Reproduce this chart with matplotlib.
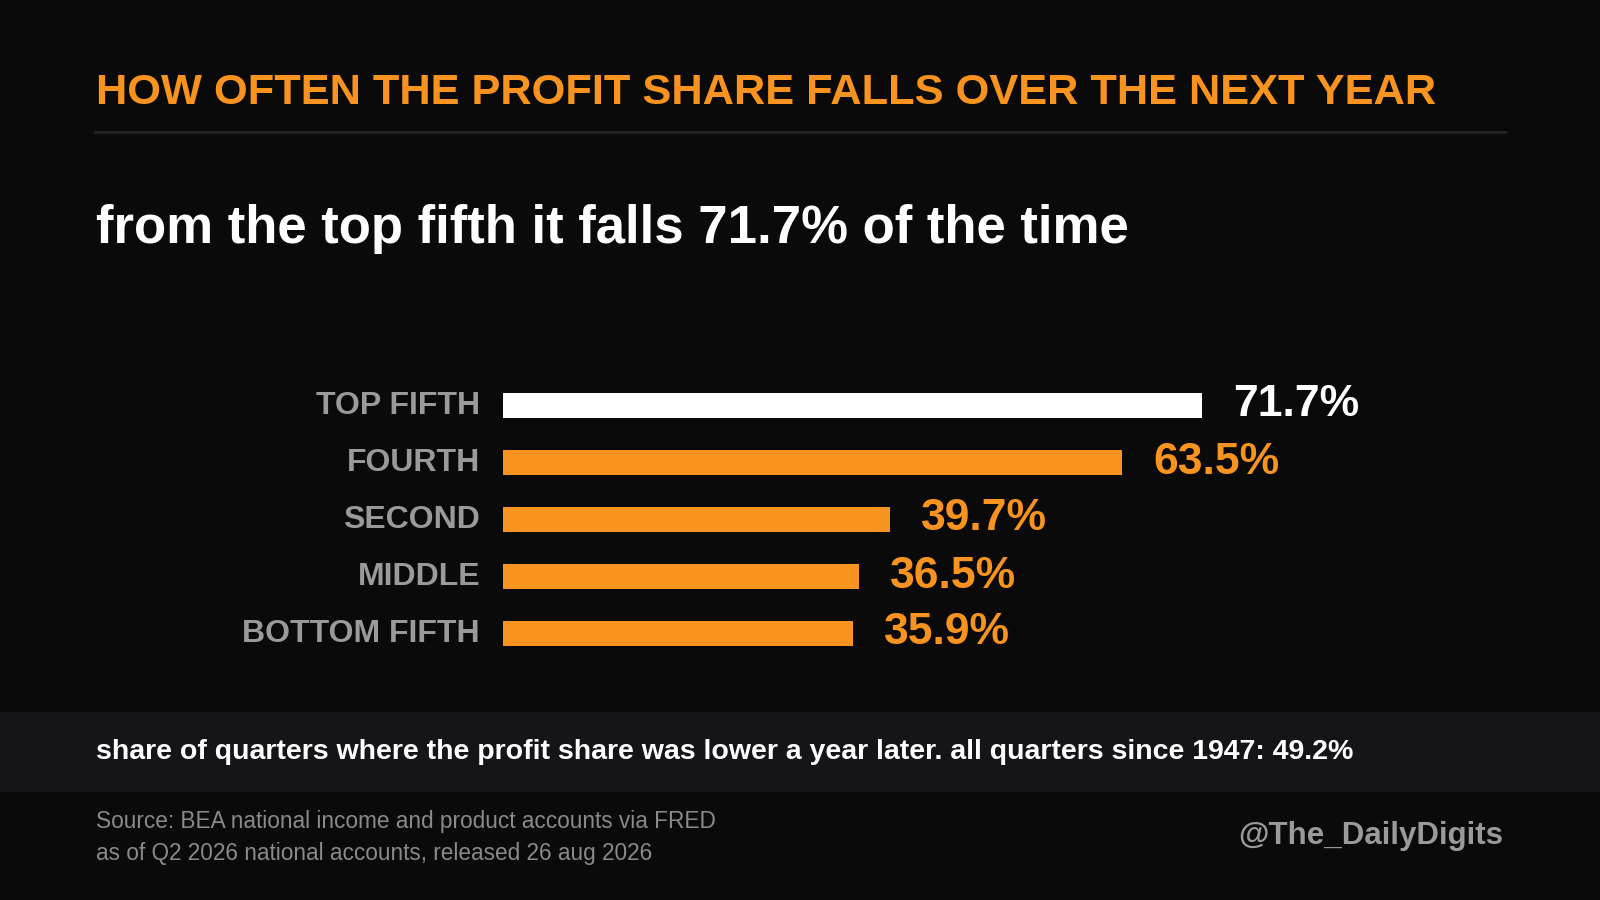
import matplotlib.pyplot as plt
from matplotlib.patches import Rectangle
from matplotlib.lines import Line2D

plt.rcParams['font.family'] = ['Liberation Sans', 'DejaVu Sans']

# data
categories = ['TOP FIFTH', 'FOURTH', 'SECOND', 'MIDDLE', 'BOTTOM FIFTH']
values = [71.7, 63.5, 39.7, 36.5, 35.9]
value_labels = ['71.7%', '63.5%', '39.7%', '36.5%', '35.9%']

title = 'HOW OFTEN THE PROFIT SHARE FALLS OVER THE NEXT YEAR'
subtitle = 'from the top fifth it falls 71.7% of the time'
note = 'share of quarters where the profit share was lower a year later. all quarters since 1947: 49.2%'
source1 = 'Source: BEA national income and product accounts via FRED'
source2 = 'as of Q2 2026 national accounts, released 26 aug 2026'
handle = '@The_DailyDigits'

BG = '#0a0a0a'
ORANGE = '#f7931e'
GRAY = '#9a9a9a'
W, H = 1600, 900

fig = plt.figure(figsize=(16, 9), dpi=100, facecolor=BG)

def fx(x):
    return x / W

def fy(y):
    return 1 - y / H

# header
fig.text(fx(96), fy(104.5), title, color=ORANGE, fontsize=31.2, fontweight='bold', va='baseline')
fig.add_artist(Line2D([fx(95), fx(1505)], [fy(131.5), fy(131.5)], transform=fig.transFigure,
                      color='#222226', lw=2.2))
fig.text(fx(96), fy(243), subtitle, color='white', fontsize=38, fontweight='bold', va='baseline')

# bars
px_per_unit = 9.75
ax_left, ax_top, row = 503, 377, 57
ax = fig.add_axes([fx(ax_left), fy(ax_top + row * len(values)), 100 * px_per_unit / W, row * len(values) / H])
ax.set_facecolor(BG)
ypos = list(range(len(values)))
colors = ['white'] + [ORANGE] * (len(values) - 1)
ax.barh(ypos, values, height=0.45, color=colors)
ax.set_xlim(0, 100)
ax.set_ylim(len(values) - 0.5, -0.5)
ax.axis('off')

for i, (v, lab, cat) in enumerate(zip(values, value_labels, categories)):
    ax.annotate(lab, (v, i), xytext=(31, -11), textcoords='offset pixels',
                color=colors[i], fontsize=32, fontweight='bold', va='baseline', ha='left')
    ax.annotate(cat, (0, i), xytext=(-23, -8.5), textcoords='offset pixels',
                color=GRAY, fontsize=23, fontweight='bold', va='baseline', ha='right')

# note band
fig.add_artist(Rectangle((0, fy(792)), 1, (792 - 712) / H, transform=fig.transFigure,
                         facecolor='#141419', edgecolor='none'))
fig.text(fx(96), fy(759), note, color='white', fontsize=20.5, fontweight='bold', va='baseline')

# footer
fig.text(fx(96), fy(828), source1, color='#8a8a8a', fontsize=16.25, va='baseline')
fig.text(fx(96), fy(860), source2, color='#8a8a8a', fontsize=16.25, va='baseline')
fig.text(fx(1503), fy(844), handle, color=GRAY, fontsize=22.5, fontweight='bold', va='baseline', ha='right')

fig.savefig('out.png', facecolor=BG)
